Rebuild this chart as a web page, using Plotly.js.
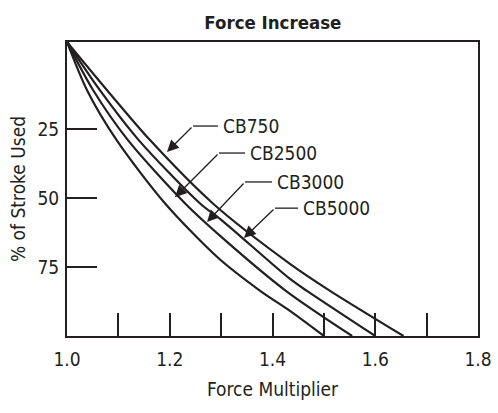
<!DOCTYPE html>
<html>
<head>
<meta charset="utf-8">
<script src="https://cdn.plot.ly/plotly-3.0.1.min.js"></script>
<style>html,body{margin:0;padding:0;background:#fff;}#chart{width:498px;height:413px;}</style>
</head>
<body>
<div id="chart"></div>
<script>
// ---- data ----
const seriesNames = ['CB750', 'CB2500', 'CB3000', 'CB5000'];

const cb750X  = [1.000, 1.078, 1.162, 1.284, 1.434, 1.512, 1.655];
const cb750Y  = [-6.7, 10.8, 29.0, 51.9, 73.8, 83.6, 100];

const cb2500X = [1.000, 1.039, 1.097, 1.191, 1.294, 1.376, 1.434, 1.500];
const cb2500Y = [-6.7, 10.8, 29.0, 51.9, 71.6, 83.6, 90.9, 100];

const cb3000X = [1.000, 1.051, 1.119, 1.230, 1.302, 1.426, 1.555];
const cb3000Y = [-6.7, 10.8, 29.0, 51.9, 64.3, 83.6, 100];

const cb5000X = [1.000, 1.064, 1.140, 1.259, 1.302, 1.434, 1.467, 1.600];
const cb5000Y = [-6.7, 10.8, 29.0, 51.9, 58.1, 79.3, 83.6, 100];

const xTickVals = [1.0, 1.1, 1.2, 1.3, 1.4, 1.5, 1.6, 1.7, 1.8];
const xTickText = ['1.0', '', '1.2', '', '1.4', '', '1.6', '', '1.8'];
const yTickVals = [25, 50, 75];
const yTickText = ['25', '50', '75'];

const titleText = 'Force Increase';
const xTitle = 'Force Multiplier';
const yTitle = '% of Stroke Used';

// ---- drawing ----
const INK = '#231f20';
const FONT = '"Liberation Sans Narrow", "DejaVu Sans Condensed", "Arial Narrow", sans-serif';

const xs = [cb750X, cb2500X, cb3000X, cb5000X];
const ys = [cb750Y, cb2500Y, cb3000Y, cb5000Y];

const traces = seriesNames.map((n, i) => ({
  type: 'scatter', mode: 'lines', name: n,
  x: xs[i], y: ys[i],
  line: {color: INK, width: 2.2, shape: 'spline', smoothing: 0.8},
  hoverinfo: 'skip'
}));

// leader geometry: [tipX, tipY, kneeX, kneeY, lineEndX, textX]
const leaders = [
  [1.1946, 33.2, 1.2453, 23.8, 1.2939, 1.3000],
  [1.2102, 49.6, 1.2959, 33.6, 1.3465, 1.3530],
  [1.2725, 58.6, 1.3465, 44.1, 1.3990, 1.4055],
  [1.3445, 64.4, 1.4049, 53.6, 1.4496, 1.4560]
];

const annotations = [];
const shapes = [];
leaders.forEach((g, i) => {
  annotations.push({
    x: g[0], y: g[1], ax: g[2], ay: g[3], axref: 'x', ayref: 'y', xref: 'x', yref: 'y',
    text: '', showarrow: true, arrowhead: 2, arrowsize: 1.8, arrowwidth: 1.3,
    arrowcolor: INK, standoff: 0, startstandoff: 0
  });
  annotations.push({
    x: g[5], y: g[3], xref: 'x', yref: 'y', text: seriesNames[i], showarrow: false,
    xanchor: 'left', yanchor: 'middle', font: {family: FONT, size: 19, color: INK}
  });
  shapes.push({
    type: 'line', xref: 'x', yref: 'y', x0: g[2], y0: g[3], x1: g[4], y1: g[3],
    line: {color: INK, width: 1.3}
  });
});

const layout = {
  width: 498, height: 413,
  margin: {l: 67, r: 20, t: 42, b: 77},
  paper_bgcolor: '#fff', plot_bgcolor: '#fff',
  showlegend: false,
  font: {family: FONT, size: 19, color: INK},
  title: {text: '<b>' + titleText + '</b>', x: 0.548, xanchor: 'center', y: 0.945, yanchor: 'middle',
          font: {family: FONT, size: 18.5, color: INK}},
  xaxis: {
    range: [1.0, 1.8], tickvals: xTickVals, ticktext: xTickText,
    ticks: 'inside', ticklen: 23, tickwidth: 2, tickcolor: INK,
    showline: true, linewidth: 2, linecolor: INK, mirror: true,
    showgrid: false, zeroline: false, ticklabelstandoff: 5,
    tickfont: {family: FONT, size: 19, color: INK},
    title: {text: xTitle, font: {family: FONT, size: 19, color: INK}, standoff: 14}
  },
  yaxis: {
    range: [100, -6.7], tickvals: yTickVals, ticktext: yTickText,
    ticks: 'inside', ticklen: 30, tickwidth: 2, tickcolor: INK,
    showline: true, linewidth: 2, linecolor: INK, mirror: true,
    showgrid: false, zeroline: false, ticklabelstandoff: 2,
    tickfont: {family: FONT, size: 19, color: INK},
    title: {text: yTitle, font: {family: FONT, size: 19, color: INK}, standoff: 7}
  },
  annotations: annotations,
  shapes: shapes
};

Plotly.newPlot('chart', traces, layout, {staticPlot: true, displayModeBar: false});
</script>
</body>
</html>
